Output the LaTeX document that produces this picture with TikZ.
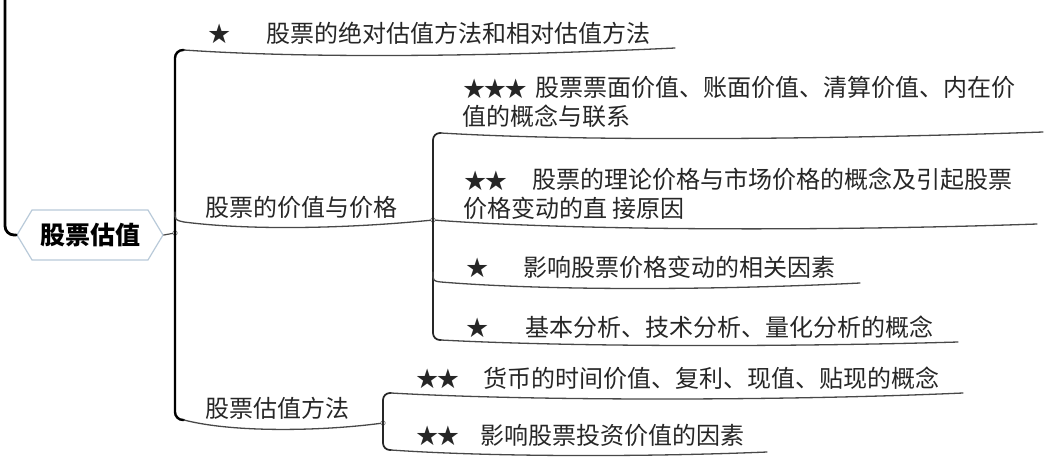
\documentclass[tikz,border=0pt]{standalone}
\usepackage{fontspec}
\newfontfamily\cjk{Noto Sans CJK SC}
\newfontfamily\starfont{DejaVu Sans}
\usetikzlibrary{shapes.symbols}
\definecolor{inkgray}{HTML}{262626}
\definecolor{linegray}{HTML}{484848}
\definecolor{hexblue}{HTML}{B9CAD9}
\newcommand{\sk}{\kern-3.5pt}
\newcommand{\starlead}[2]{\makebox[#1pt][l]{\starfont\fontsize{27}{27}\selectfont\raisebox{-1.5pt}{#2}}}

\begin{document}
\begin{tikzpicture}[x=1pt, y=-1pt, line cap=round,
    topic/.style={inner sep=0pt, anchor=west, text=inkgray, align=left, font=\cjk\fontsize{24}{29}\selectfont},
    bracket/.style={line width=2.4pt, black},
    subbracket/.style={line width=1.7pt, black!85},
    uline/.style={line width=1.3pt, linegray},
    junction/.style={circle, draw=gray, fill=white, inner sep=0pt, minimum size=4.5pt, line width=0.7pt},
    rootbox/.style={signal, signal to=east and west, signal pointer angle=118, draw=hexblue, line width=1.2pt,
        fill=white, minimum width=146pt, minimum height=50pt, inner sep=0pt, font=\cjk\bfseries\fontsize{25}{30}\selectfont}]
    \useasboundingbox (0,0) rectangle (1050,472);
    % root and incoming line
    \node[rootbox] (root) at (90,235) {股票估值};
    \coordinate (top) at (5,0);
    \draw[line width=2.8pt, rounded corners=9pt] (top) -- (5,235) -- (root.west);
    % main bracket
    \node[junction] (j0) at (175,233) {};
    \draw[bracket, rounded corners=8pt] (184,50) -- (175,50) -- (175,420) -- (184,420);
    \draw[line width=1.2pt, linegray] (root.east) -- (j0);
    % first level branches
    \coordinate (e1) at (675,48);
    \node[junction] (j1) at (433,220) {};
    \node[junction] (j2) at (383,423) {};
    \draw[uline] (184,50) .. controls +(130,9) and +(-170,8) .. (e1);
    \draw[uline] (175,212) .. controls (175,220) .. (184,222) .. controls +(70,9) and +(-80,8) .. (j1);
    \draw[uline] (184,420) .. controls +(50,13) and +(-60,8) .. (j2);
    \node[topic] (absrel) at (207,33) {\starlead{59}{★}股票的绝对估值方法和相对估值方法};
    \node[topic] (valprice) at (205,207) {股票的价值与价格};
    \node[topic] (methods) at (205,408) {股票估值方法};
    % value and price
    \draw[subbracket, rounded corners=7pt] (441,133) -- (433,133) -- (433,340) -- (441,340);
    \coordinate (e2a) at (1043,132); \coordinate (e2b) at (1037,224);
    \coordinate (e2c) at (860,283); \coordinate (e2d) at (958,342);
    \draw[uline] (441,133) .. controls +(150,9) and +(-200,7) .. (e2a);
    \draw[uline] (j1) .. controls +(150,11) and +(-200,7) .. (e2b);
    \draw[uline] (433,272) .. controls (433,281) .. (441,282) .. controls +(110,9) and +(-140,7) .. (e2c);
    \draw[uline] (441,340) .. controls +(130,7) and +(-170,5) .. (e2d);
    \node[topic] (parvalue) at (462,102) {\starlead{73}{★\sk★\sk★}股票票面价值、账面价值、清算价值、内在价\\值的概念与联系};
    \node[topic] (theory) at (463,194) {\starlead{69}{★\sk★}股票的理论价格与市场价格的概念及引起股票\\价格变动的直 接原因};
    \node[topic] (factors) at (465,267) {\starlead{58}{★}影响股票价格变动的相关因素};
    \node[topic] (analysis) at (465,327) {\starlead{60}{★}基本分析、技术分析、量化分析的概念};
    % valuation methods
    \draw[subbracket, rounded corners=7pt] (391,393) -- (383,393) -- (383,450) -- (391,450);
    \coordinate (e3a) at (963,393); \coordinate (e3b) at (767,452);
    \draw[uline] (391,393) .. controls +(140,8) and +(-180,8) .. (e3a);
    \draw[uline] (391,450) .. controls +(100,7) and +(-120,5) .. (e3b);
    \node[topic] (timevalue) at (415,378) {\starlead{68}{★\sk★}货币的时间价值、复利、现值、贴现的概念};
    \node[topic] (invest) at (415,435) {\starlead{65}{★\sk★}影响股票投资价值的因素};
\end{tikzpicture}
\end{document}
